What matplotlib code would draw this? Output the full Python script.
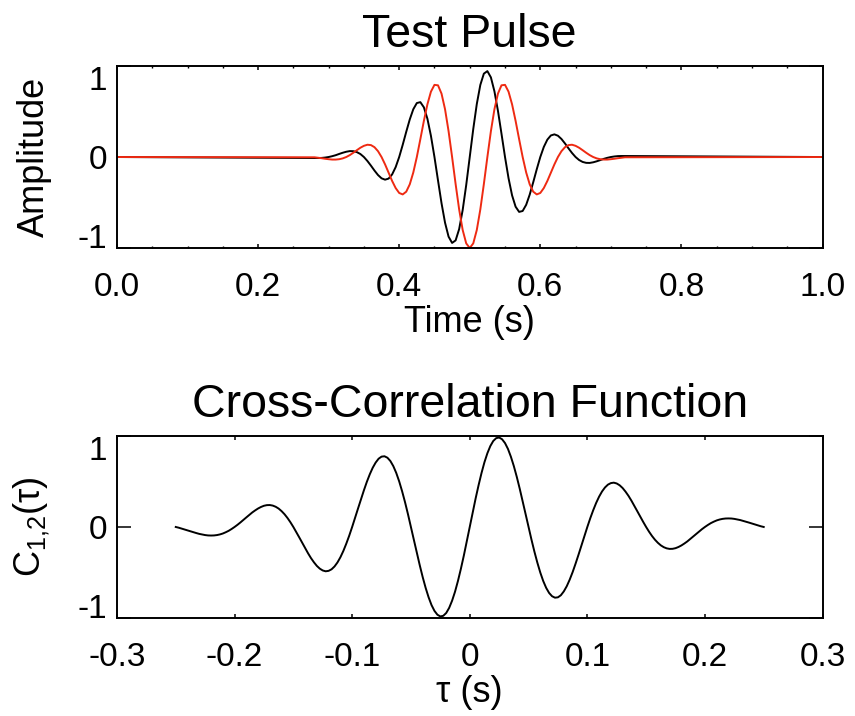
# ===[ Imports ]===============================================================
import numpy as np
import matplotlib
matplotlib.use("Agg")
import matplotlib.pyplot as plt

plt.rcParams['font.family'] = ['Liberation Sans', 'DejaVu Sans']
plt.rcParams['mathtext.fontset'] = 'custom'
plt.rcParams['mathtext.rm'] = 'Liberation Sans'

# ===[ Data ]==================================================================
# pulse samples every 5 ms between 0.28 s and 0.72 s, flat (zero) elsewhere
pulse_t = np.linspace(0.28, 0.72, 89)

pulse_black = [
    -0.011, -0.011, -0.010, -0.006,
    0.000, 0.009, 0.020, 0.034, 0.047, 0.058, 0.065, 0.064, 0.054, 0.033,
    0.000, -0.044, -0.095, -0.149, -0.198, -0.234, -0.249, -0.237, -0.191,
    -0.111,
    0.000, 0.134, 0.277, 0.413, 0.525, 0.593, 0.603, 0.546, 0.421, 0.233,
    0.000, -0.256, -0.507, -0.722, -0.875, -0.944, -0.916, -0.792, -0.582,
    -0.308,
    0.000,
    0.308, 0.582, 0.792, 0.916, 0.944, 0.875, 0.722, 0.507, 0.256, 0.000,
    -0.233, -0.421, -0.546, -0.603, -0.593, -0.525, -0.413, -0.277, -0.134,
    0.000,
    0.111, 0.191, 0.237, 0.249, 0.234, 0.198, 0.149, 0.095, 0.044, 0.000,
    -0.033, -0.054, -0.064, -0.065, -0.058, -0.047, -0.034, -0.020, -0.009,
    0.000,
    0.006, 0.010, 0.011, 0.011,
]

pulse_red = [
    -0.003, -0.008, -0.013, -0.019, -0.024, -0.028, -0.028, -0.024, -0.015,
    0.000,
    0.021, 0.047, 0.075, 0.102, 0.123, 0.135, 0.131, 0.108, 0.064, 0.000,
    -0.081, -0.172, -0.263, -0.341, -0.395, -0.411, -0.381, -0.300, -0.170,
    0.000,
    0.196, 0.397, 0.579, 0.718, 0.793, 0.788, 0.697, 0.525, 0.284, 0.000,
    -0.298, -0.576, -0.802, -0.949,
    -1.000,
    -0.949, -0.802, -0.576, -0.298, 0.000, 0.284, 0.525, 0.697, 0.788, 0.793,
    0.718, 0.579, 0.397, 0.196, 0.000, -0.170, -0.300, -0.381, -0.411,
    -0.395,
    -0.341, -0.263, -0.172, -0.081, 0.000, 0.064, 0.108, 0.131, 0.135, 0.123,
    0.102, 0.075, 0.047, 0.021, 0.000, -0.015, -0.024, -0.028, -0.028,
    -0.024,
    -0.019, -0.013, -0.008, -0.003,
]

# cross-correlation, lags every 2.5 ms from -0.25 s to 0.25 s
lag = np.linspace(-0.25, 0.25, 201)

xcorr = [
    0.000, -0.008, -0.018, -0.027, -0.038, -0.048, -0.058, -0.067, -0.076,
    -0.083,
    -0.089, -0.093, -0.094, -0.093, -0.089, -0.082, -0.072, -0.058, -0.042,
    -0.022,
    0.000, 0.024, 0.050, 0.078, 0.105, 0.132, 0.159, 0.182, 0.203, 0.220,
    0.233, 0.240, 0.241, 0.235, 0.222, 0.202, 0.174, 0.140, 0.099, 0.052,
    0.000, -0.056, -0.114, -0.173, -0.232, -0.289, -0.342, -0.388, -0.428,
    -0.458,
    -0.478, -0.487, -0.482, -0.465, -0.434, -0.390, -0.333, -0.264, -0.184,
    -0.096,
    0.000, 0.100, 0.203, 0.305, 0.403, 0.496, 0.579, 0.651, 0.708, 0.750,
    0.773, 0.777, 0.761, 0.725, 0.669, 0.594, 0.501, 0.392, 0.271, 0.139,
    0.000, -0.142, -0.284, -0.421, -0.551, -0.669, -0.772, -0.858, -0.922,
    -0.964,
    -0.983, -0.976, -0.945, -0.889, -0.810, -0.711, -0.592, -0.458, -0.313,
    -0.158,
    0.000,
    0.158, 0.313, 0.458, 0.592, 0.711, 0.810, 0.889, 0.945, 0.976, 0.983,
    0.964, 0.922, 0.858, 0.772, 0.669, 0.551, 0.421, 0.284, 0.142, 0.000,
    -0.139, -0.271, -0.392, -0.501, -0.594, -0.669, -0.725, -0.761, -0.777,
    -0.773,
    -0.750, -0.708, -0.651, -0.579, -0.496, -0.403, -0.305, -0.203, -0.100,
    0.000,
    0.096, 0.184, 0.264, 0.333, 0.390, 0.434, 0.465, 0.482, 0.487, 0.478,
    0.458, 0.428, 0.388, 0.342, 0.289, 0.232, 0.173, 0.114, 0.056, 0.000,
    -0.052, -0.099, -0.140, -0.174, -0.202, -0.222, -0.235, -0.241, -0.240,
    -0.233,
    -0.220, -0.203, -0.182, -0.159, -0.132, -0.105, -0.078, -0.050, -0.024,
    0.000,
    0.022, 0.042, 0.058, 0.072, 0.082, 0.089, 0.093, 0.094, 0.093, 0.089,
    0.083, 0.076, 0.067, 0.058, 0.048, 0.038, 0.027, 0.018, 0.008, 0.000,
]

time_ticks = [0.0, 0.2, 0.4, 0.6, 0.8, 1.0]
time_labels = ['0.0', '0.2', '0.4', '0.6', '0.8', '1.0']
lag_ticks = [-0.3, -0.2, -0.1, 0.0, 0.1, 0.2, 0.3]
lag_labels = ['-0.3', '-0.2', '-0.1', '0', '0.1', '0.2', '0.3']
amp_ticks = [-1, 0, 1]
amp_labels = ['-1', '0', '1']

RED = '#ee2a12'
FS_TICK = 24
FS_LABEL = 26
FS_TITLE = 33.5


# ===[ style_axes ]============================================================
def style_axes(ax, xticks, xlabels, minor=None):
    for side in ax.spines.values():
        side.set_linewidth(1.4)
    ax.set_xticks(xticks)
    ax.set_xticklabels(xlabels)
    if minor is not None:
        ax.set_xticks(minor, minor=True)
    ax.set_yticks(amp_ticks)
    ax.set_yticklabels(amp_labels)
    ax.set_ylim(-1, 1)
    ax.tick_params(axis='x', which='major', direction='in', top=True,
                   length=3, width=1.1, pad=17, labelsize=FS_TICK)
    ax.tick_params(axis='x', which='minor', direction='in', top=True,
                   length=1.6, width=1.0)
    ax.tick_params(axis='y', which='major', direction='in', right=True,
                   length=10, width=1.1, pad=7, labelsize=FS_TICK)
    # end labels sit inside the axis range
    yt = ax.yaxis.get_major_ticks()
    yt[0].label1.set_verticalalignment('baseline')
    yt[-1].label1.set_verticalalignment('top')
    ax.yaxis.set_label_coords(-0.092, 0.5)
    ax.xaxis.set_label_coords(0.5, -0.313)


# ===[ Figure ]================================================================
fig = plt.figure(figsize=(8.55, 7.16), dpi=100)
ax1 = fig.add_axes([0.1368, 0.6536, 0.8252, 0.2542])
ax2 = fig.add_axes([0.1368, 0.1369, 0.8252, 0.2542])

# --- top: the two test pulses
t_full = np.r_[0.0, pulse_t, 1.0]
ax1.plot(t_full, np.r_[0.0, pulse_black, 0.0], color='black', lw=1.4)
ax1.plot(t_full, np.r_[0.0, pulse_red, 0.0], color=RED, lw=1.4)
ax1.set_xlim(0, 1)
style_axes(ax1, time_ticks, time_labels, minor=np.arange(0, 1.001, 0.05))
ax1.set_title('Test Pulse', fontsize=FS_TITLE, pad=13.7)
ax1.set_xlabel('Time (s)', fontsize=FS_LABEL)
ax1.set_ylabel('Amplitude', fontsize=FS_LABEL)

# --- bottom: cross-correlation of the pulses
ax2.plot(lag, xcorr, color='black', lw=1.4)
ax2.set_xlim(-0.3, 0.3)
style_axes(ax2, lag_ticks, lag_labels)
ax2.set_title('Cross-Correlation Function', fontsize=FS_TITLE, pad=13.7)
ax2.set_xlabel('τ (s)', fontsize=FS_LABEL)
ax2.set_ylabel(r'C$_{\mathrm{1{,}2}}$(τ)', fontsize=FS_LABEL)

fig.savefig('out.png', dpi=100)
